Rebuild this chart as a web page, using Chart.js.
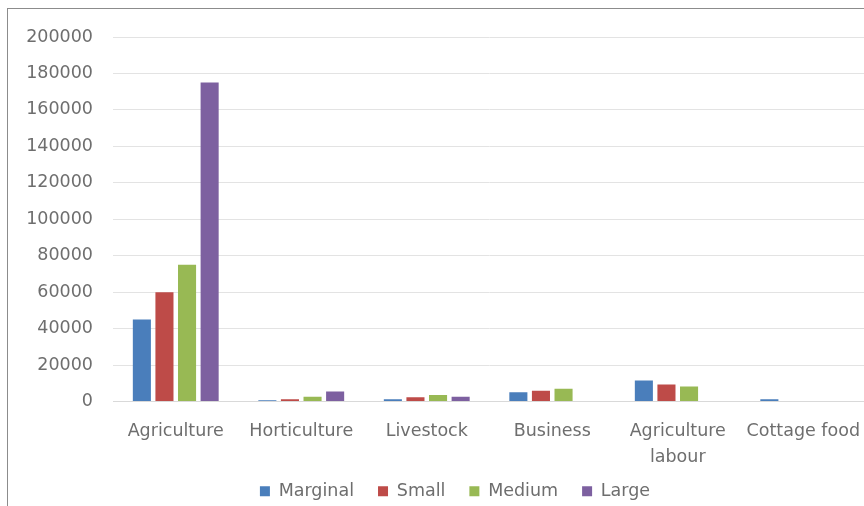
<!DOCTYPE html>
<html>
<head>
<meta charset="utf-8">
<script src="https://cdn.jsdelivr.net/npm/chart.js@4/dist/chart.umd.min.js"></script>
<style>
  html, body { margin: 0; padding: 0; background: #fff; overflow: hidden; width: 864px; height: 506px; }
  #wrap { position: absolute; left: 0; top: 0; width: 864px; height: 506px; overflow: hidden; }
  #frame { position: absolute; left: 7px; top: 8px; width: 900px; height: 520px; border-left: 1px solid #8c8c8c; border-top: 1px solid #8c8c8c; }
  canvas { position: absolute; left: 0; top: 0; }
</style>
</head>
<body>
<div id="wrap">
  <div id="frame"></div>
  <canvas id="c" width="880" height="506"></canvas>
</div>
<script>
const categories = ["Agriculture", "Horticulture", "Livestock", "Business", ["Agriculture", "labour"], "Cottage food"];
const marginal = [45000, 700, 1300, 5100, 11500, 1300];
const small    = [60000, 1300, 2400, 5900, 9300, 0];
const medium   = [75000, 2600, 3500, 7000, 8200, 0];
const large    = [175000, 5500, 2600, 0, 0, 0];
const seriesNames = ["Marginal", "Small", "Medium", "Large"];
const yTicksMax = 200000;
const yTickStep = 20000;

const colors = ["#4a7ebb", "#be4b48", "#98b954", "#7d60a0"];
const values = [marginal, small, medium, large];
const FONT = "'DejaVu Sans'";
const TXT = "#6e6e6e";

// let axis labels extend beyond the fitted scale boxes (no clipping)
const unclipLabels = {
  id: "unclipLabels",
  afterLayout(chart) {
    chart.scales.x.bottom = chart.height;
    chart.scales.y.left = 0;
  }
};

new Chart(document.getElementById("c"), {
  type: "bar",
  data: {
    labels: categories,
    datasets: seriesNames.map((n, i) => ({
      label: n,
      data: values[i],
      backgroundColor: colors[i],
      borderWidth: 0,
      categoryPercentage: 0.72,
      barPercentage: 0.8
    }))
  },
  plugins: [unclipLabels],
  options: {
    responsive: false,
    animation: false,
    layout: { padding: { left: 44, right: 14, top: 37, bottom: -4 } },
    plugins: {
      legend: {
        position: "bottom",
        labels: {
          boxWidth: 10, boxHeight: 10, padding: 24,
          color: TXT,
          font: { family: FONT, size: 17.5 }
        }
      },
      tooltip: { enabled: false }
    },
    scales: {
      x: {
        grid: { display: false, drawTicks: false },
        border: { display: true, color: "#d9d9d9" },
        ticks: { color: TXT, font: { family: FONT, size: 17.5, lineHeight: 1.49 }, maxRotation: 0, autoSkip: false, padding: 17 },
        afterFit: (s) => { s.height = 57; }
      },
      y: {
        min: 0, max: yTicksMax,
        grid: { color: "#e3e3e3", drawTicks: false },
        border: { display: false },
        ticks: {
          stepSize: yTickStep, color: TXT, font: { family: FONT, size: 17.5 }, padding: 20,
          callback: (v) => String(v)
        },
        afterFit: (s) => { s.width = 69; }
      }
    }
  }
});
</script>
</body>
</html>
